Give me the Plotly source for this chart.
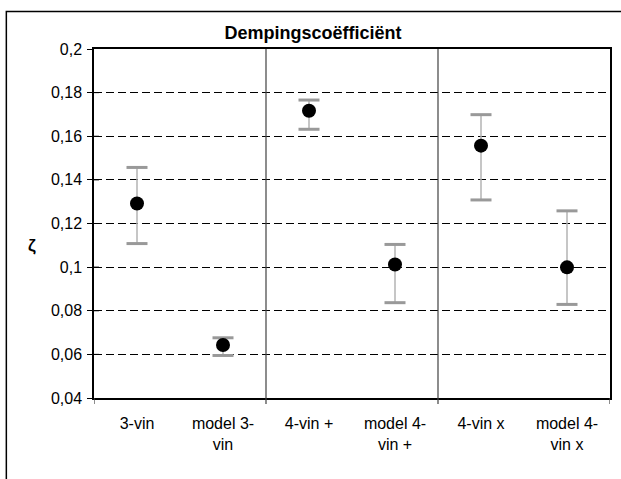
import plotly.graph_objects as go

categories = ["3-vin", "model 3-vin", "4-vin +", "model 4-vin +", "4-vin x", "model 4-vin x"]
tick_labels = ["3-vin", "model 3-<br>vin", "4-vin +", "model 4-<br>vin +", "4-vin x", "model 4-<br>vin x"]
values = [0.1292, 0.0643, 0.1717, 0.1012, 0.1557, 0.0999]
upper = [0.1457, 0.0676, 0.1766, 0.1104, 0.1699, 0.1258]
lower = [0.1108, 0.0595, 0.1632, 0.0837, 0.1308, 0.0829]
y_ticks = [0.04, 0.06, 0.08, 0.10, 0.12, 0.14, 0.16, 0.18, 0.20]
y_tick_text = ["0,04", "0,06", "0,08", "0,1", "0,12", "0,14", "0,16", "0,18", "0,2"]
separators = [1.5, 3.5]

FONT = "Liberation Sans, Arial, sans-serif"

plus = [u - v for u, v in zip(upper, values)]
minus = [v - l for v, l in zip(values, lower)]

fig = go.Figure()

# stems
fig.add_trace(go.Scatter(
    x=categories, y=values, mode="markers",
    marker=dict(size=1, color="rgba(0,0,0,0)"),
    error_y=dict(type="data", array=plus, arrayminus=minus, symmetric=False,
                 color="#b3b3b3", thickness=1.5, width=0),
    hoverinfo="skip", showlegend=False))

# caps
fig.add_trace(go.Scatter(
    x=categories + categories, y=upper + lower, mode="markers",
    marker=dict(symbol="line-ew", size=15, line=dict(color="#999999", width=3)),
    hoverinfo="skip", showlegend=False))

# points
fig.add_trace(go.Scatter(
    x=categories, y=values, mode="markers",
    marker=dict(size=14, color="black"),
    showlegend=False))

W, H = 518, 349
L, T = 94, 49

shapes = []
for s in separators:
    shapes.append(dict(type="line", xref="x", yref="paper", x0=s, x1=s, y0=-6 / H, y1=1,
                       line=dict(color="#404040", width=1.2)))
for s in [-0.5, 5.5]:
    shapes.append(dict(type="line", xref="x", yref="paper", x0=s, x1=s, y0=-6 / H, y1=0,
                       line=dict(color="#404040", width=1.2)))
# cross part of y ticks (inside the plot)
for v in y_ticks[1:-1]:
    shapes.append(dict(type="line", xref="paper", yref="y", x0=0, x1=5 / W, y0=v, y1=v,
                       line=dict(color="black", width=1)))
# outer chart frame
shapes.append(dict(type="rect", xref="paper", yref="paper",
                   x0=(6 - L) / W, x1=(630 - L) / W, y0=-0.4, y1=(398 - 11.5) / H,
                   line=dict(color="black", width=1.5), layer="below"))

fig.update_layout(
    width=621, height=479,
    margin=dict(l=L, r=621 - L - W, t=T, b=479 - T - H),
    paper_bgcolor="white", plot_bgcolor="white",
    font=dict(family=FONT, size=16, color="black"),
    title=dict(text="<b>Dempingscoëfficiënt</b>", x=313 / 621, xanchor="center",
               y=1 - 32.5 / 479, yanchor="middle",
               font=dict(family=FONT, size=18, color="black")),
    xaxis=dict(type="category", range=[-0.5, 5.5], tickvals=categories, ticktext=tick_labels,
               showgrid=False, showline=True, linecolor="black", linewidth=1.5, mirror=True,
               ticks="", zeroline=False, tickfont=dict(size=16), ticklabelstandoff=10),
    yaxis=dict(range=[0.04, 0.2], tickvals=y_ticks, ticktext=y_tick_text,
               showgrid=True, gridcolor="black", gridwidth=1, griddash="8px,4px",
               showline=True, linecolor="black", linewidth=1.5, mirror=True,
               ticks="outside", ticklen=5, tickcolor="black", zeroline=False,
               tickfont=dict(size=16), ticklabelstandoff=2),
    shapes=shapes,
    annotations=[dict(text="<b>ζ</b>", xref="paper", yref="paper",
                      x=(32 - L) / W, y=(398 - 245) / H, xanchor="center", yanchor="middle",
                      showarrow=False,
                      font=dict(family=FONT, size=17, color="black"))],
)

fig.write_html("out.html", config={"displayModeBar": False},
               post_script="document.body.style.margin='0';document.body.style.overflow='hidden';")
